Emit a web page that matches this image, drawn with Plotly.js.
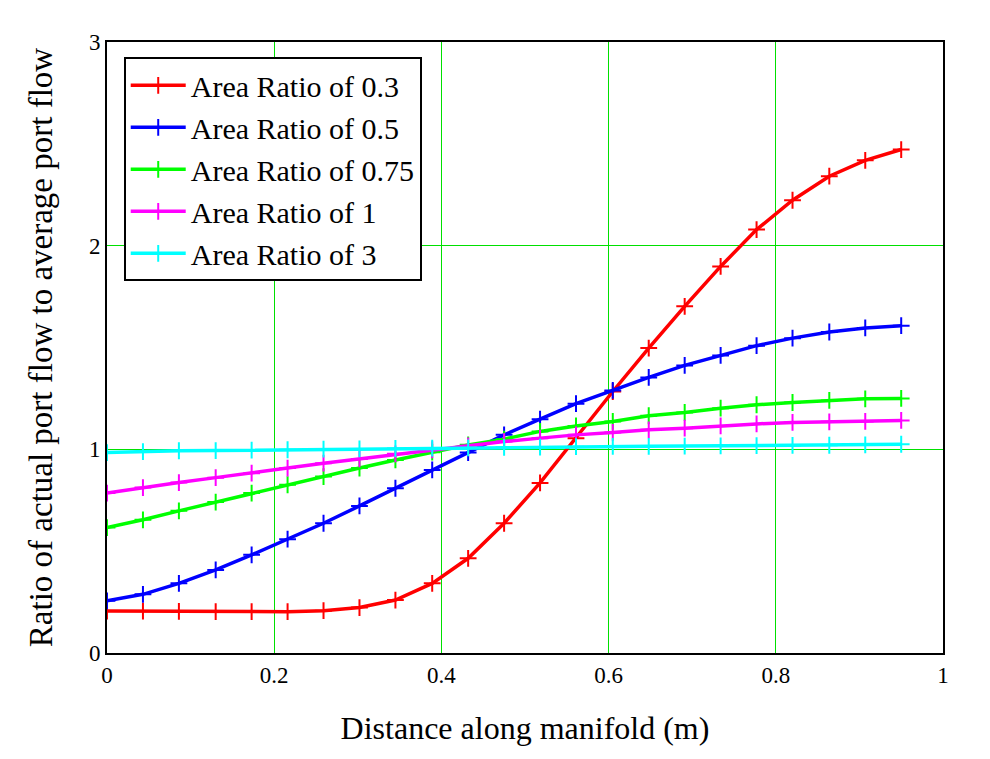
<!doctype html>
<html>
<head>
    <meta charset="utf-8">
    <title>Port flow ratio</title>
    <script src="https://cdn.plot.ly/plotly-3.0.1.min.js"></script>
    <style>
        body {margin: 0; background: #fff;}
    </style>
</head>
<body>
    <div id="plot" style="width:990px;height:759px;"></div>
    <script>
        // ====== DATA ==================================================
        let distance = [0, 0.043, 0.086, 0.13, 0.173, 0.216, 0.259, 0.302, 0.345, 0.389, 0.432, 0.475,
                        0.518, 0.561, 0.605, 0.648, 0.691, 0.734, 0.777, 0.82, 0.864, 0.907, 0.95];

        let ratio03 = [0.206, 0.206, 0.204, 0.203, 0.203, 0.203, 0.208, 0.223, 0.26, 0.342, 0.465, 0.637,
                       0.835, 1.055, 1.284, 1.497, 1.702, 1.898, 2.079, 2.223, 2.341, 2.419, 2.472];
        let ratio05 = [0.256, 0.288, 0.342, 0.408, 0.482, 0.559, 0.637, 0.722, 0.809, 0.899, 0.984, 1.071,
                       1.148, 1.224, 1.289, 1.353, 1.412, 1.461, 1.509, 1.546, 1.576, 1.596, 1.607];
        let ratio075 = [0.616, 0.654, 0.698, 0.741, 0.785, 0.826, 0.866, 0.908, 0.948, 0.986, 1.022, 1.05,
                        1.088, 1.115, 1.137, 1.165, 1.181, 1.202, 1.219, 1.23, 1.24, 1.248, 1.25];
        let ratio1 = [0.785, 0.812, 0.837, 0.861, 0.883, 0.908, 0.932, 0.953, 0.978, 0.998, 1.017, 1.038,
                      1.055, 1.071, 1.083, 1.096, 1.104, 1.115, 1.125, 1.132, 1.135, 1.137, 1.142];
        let ratio3 = [0.984, 0.989, 0.993, 0.994, 0.996, 0.998, 1.001, 1.002, 1.004, 1.006, 1.007, 1.01,
                      1.011, 1.013, 1.015, 1.015, 1.016, 1.017, 1.018, 1.019, 1.02, 1.022, 1.025];

        let seriesNames = ['Area Ratio of 0.3', 'Area Ratio of 0.5', 'Area Ratio of 0.75',
                           'Area Ratio of 1', 'Area Ratio of 3'];
        let seriesColors = ['#ff0000', '#0000ff', '#00ff00', '#ff00ff', '#00ffff'];
        let seriesValues = [ratio03, ratio05, ratio075, ratio1, ratio3];

        let xTicks = [0, 0.2, 0.4, 0.6, 0.8, 1];
        let xTickText = ['0', '0.2', '0.4', '0.6', '0.8', '1'];
        let yTicks = [0, 1, 2, 3];
        let yTickText = ['0', '1', '2', '3'];

        // ====== PLOT ==================================================
        let serif = 'Liberation Serif';

        let traces = [];
        for (let i = 0; i < seriesValues.length; i++) {
            traces.push({
                x: distance,
                y: seriesValues[i],
                name: seriesNames[i],
                type: 'scatter',
                mode: 'lines+markers',
                line: {color: seriesColors[i], width: 3.5},
                marker: {
                    symbol: 'cross-thin-open',
                    size: 12,
                    color: seriesColors[i],
                    line: {color: seriesColors[i], width: 2},
                },
            });
        }

        let axisCommon = {
            showline: true,
            mirror: true,
            linecolor: '#000',
            linewidth: 2,
            showgrid: true,
            gridcolor: '#00e000',
            gridwidth: 1,
            zeroline: false,
            ticks: '',
            tickmode: 'array',
            tickfont: {family: serif, size: 23, color: '#000'},
        };

        let layout = {
            width: 990,
            height: 759,
            margin: {l: 107, r: 47, t: 42, b: 106},
            paper_bgcolor: '#fff',
            plot_bgcolor: '#fff',
            xaxis: Object.assign({}, axisCommon, {
                range: [0, 1],
                tickvals: xTicks,
                ticktext: xTickText,
                title: {text: 'Distance along manifold (m)', font: {family: serif, size: 32, color: '#000'}, standoff: 30},
            }),
            yaxis: Object.assign({}, axisCommon, {
                range: [0, 3],
                tickvals: yTicks,
                ticktext: yTickText,
                title: {text: 'Ratio of actual port flow to average port flow', font: {family: serif, size: 33, color: '#000'}, standoff: 26},
            }),
            legend: {
                x: 0.02,
                y: 0.975,
                xanchor: 'left',
                yanchor: 'top',
                bgcolor: '#fff',
                bordercolor: '#000',
                borderwidth: 2,
                itemwidth: 55,
                entrywidth: 300,
                font: {family: serif, size: 30, color: '#000'},
            },
            showlegend: true,
        };

        Plotly.newPlot(document.getElementById('plot'), traces, layout, {displayModeBar: false, staticPlot: true});
    </script>
</body>
</html>
